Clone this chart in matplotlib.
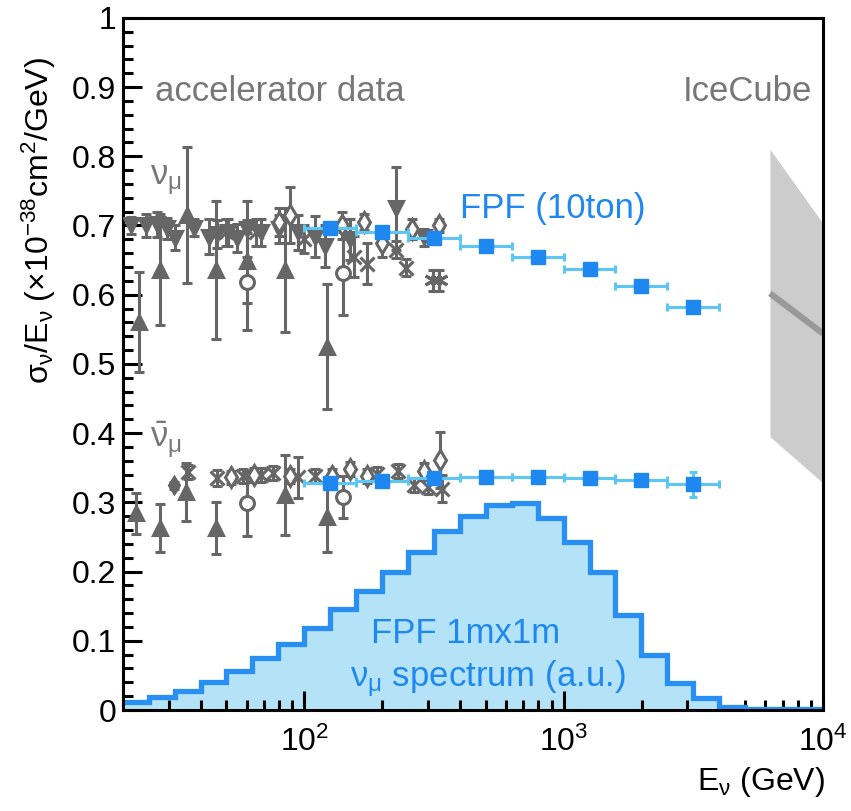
import numpy as np
import matplotlib
matplotlib.use("Agg")
import matplotlib.pyplot as plt

plt.rcParams['font.family'] = ['Liberation Sans', 'DejaVu Sans']
plt.rcParams['mathtext.fontset'] = 'custom'
plt.rcParams['mathtext.rm'] = 'Liberation Sans'
plt.rcParams['mathtext.it'] = 'Liberation Sans'
plt.rcParams['mathtext.bf'] = 'Liberation Sans:bold'

# ---- FPF neutrino spectrum histogram (log10 bin edges, a.u.)
hist_log_edges = [1.3, 1.4, 1.5, 1.6, 1.7, 1.8, 1.9, 2.0, 2.1, 2.2, 2.3, 2.4, 2.5, 2.6,
                  2.7, 2.8, 2.9, 3.0, 3.1, 3.2, 3.3, 3.4, 3.5, 3.6, 3.7, 3.8, 3.9, 4.0]
hist_vals = [0.012, 0.019, 0.027, 0.041, 0.056, 0.075, 0.096, 0.119, 0.146, 0.172,
             0.200, 0.229, 0.258, 0.280, 0.296, 0.299, 0.278, 0.243, 0.200, 0.137,
             0.079, 0.039, 0.017, 0.004, 0.002, 0.001, 0.001]

# ---- FPF (10ton) projections
fpf_log_lo = [2.0, 2.2, 2.4, 2.6, 2.8, 3.0, 3.2, 3.4]
fpf_log_hi = [2.2, 2.4, 2.6, 2.8, 3.0, 3.2, 3.4, 3.6]
fpf_nu = [0.697, 0.690, 0.682, 0.670, 0.655, 0.637, 0.612, 0.582]
fpf_nu_err = [0.004, 0.004, 0.004, 0.004, 0.004, 0.004, 0.005, 0.006]
fpf_nubar = [0.328, 0.331, 0.335, 0.337, 0.336, 0.335, 0.333, 0.326]
fpf_nubar_err = [0.004, 0.004, 0.004, 0.004, 0.004, 0.005, 0.007, 0.018]

# ---- IceCube band
ice_E = [6250, 10000]
ice_lo = [0.395, 0.328]
ice_hi = [0.810, 0.703]
ice_mid = [0.602, 0.544]

# ---- accelerator data, nu_mu  (E, sigma/E, err) by marker
nu_dtri = [(21.5, 0.700, 0.012), (24.5, 0.700, 0.016), (27.0, 0.702, 0.018),
           (29.5, 0.696, 0.015), (31.8, 0.682, 0.018), (37.5, 0.697, 0.012),
           (43.0, 0.684, 0.025), (46.0, 0.688, 0.020), (51.0, 0.690, 0.020),
           (55.0, 0.682, 0.020), (60.0, 0.695, 0.040), (68.0, 0.690, 0.020),
           (80.0, 0.695, 0.020), (95.0, 0.690, 0.025), (110.0, 0.684, 0.030),
           (120.0, 0.670, 0.030), (150.0, 0.680, 0.030), (226.0, 0.725, 0.060),
           (290.0, 0.683, 0.012)]
nu_utri = [(23.0, 0.561, 0.072), (27.9, 0.636, 0.080), (35.3, 0.715, 0.098),
           (45.7, 0.636, 0.100), (60.0, 0.648, 0.060), (84.3, 0.636, 0.090),
           (122.0, 0.525, 0.090)]
nu_circ = [(60.0, 0.619, 0.070), (141.0, 0.631, 0.060)]
nu_cross = [(50.0, 0.690, 0.020), (65.0, 0.690, 0.020), (100.0, 0.680, 0.020),
            (155.0, 0.655, 0.030), (175.0, 0.645, 0.030), (225.0, 0.665, 0.012),
            (247.0, 0.639, 0.012)]
nu_diam = [(80.0, 0.705, 0.020), (88.0, 0.715, 0.040), (140.0, 0.700, 0.020),
           (170.0, 0.705, 0.012), (200.0, 0.675, 0.020), (260.0, 0.695, 0.015),
           (330.0, 0.700, 0.010)]
nu_star = [(315.0, 0.621, 0.015), (332.0, 0.621, 0.015)]

# ---- accelerator data, anti nu_mu
nb_utri = [(22.4, 0.284, 0.030), (27.9, 0.263, 0.035), (35.0, 0.315, 0.042),
           (45.7, 0.263, 0.038), (84.3, 0.311, 0.058), (122.0, 0.279, 0.050)]
nb_circ = [(60.0, 0.299, 0.047), (141.0, 0.308, 0.030)]
nb_cross = [(35.5, 0.344, 0.010), (46.0, 0.335, 0.012), (58.0, 0.338, 0.010),
            (68.0, 0.340, 0.010), (76.0, 0.342, 0.010), (95.0, 0.336, 0.030),
            (110.0, 0.338, 0.010), (190.0, 0.341, 0.010), (230.0, 0.345, 0.010),
            (265.0, 0.325, 0.010), (300.0, 0.322, 0.010), (340.0, 0.320, 0.020)]
nb_diam = [(52.0, 0.336, 0.010), (64.0, 0.340, 0.010), (88.0, 0.338, 0.010),
           (128.0, 0.338, 0.010), (150.0, 0.348, 0.010), (175.0, 0.338, 0.010),
           (290.0, 0.345, 0.012), (335.0, 0.361, 0.040)]
nb_fdiam = [(31.5, 0.325, 0.005)]

grey = '#666666'
blue_line = '#2a8ff2'
blue_fill = '#b4e3f8'
blue_mark = '#1e88f0'
blue_err = '#5cc6f5'

fig = plt.figure(figsize=(8.51, 8.11), dpi=100)
ax = fig.add_axes([0.1445, 0.1245, 0.8225, 0.8535])

# spectrum
edges = 10 ** np.array(hist_log_edges)
ax.stairs(hist_vals, edges, fill=True, color=blue_fill, zorder=1)
ax.stairs(hist_vals, edges, baseline=None, color=blue_line, lw=3.8, zorder=2)

# IceCube
ax.fill_between(ice_E, ice_lo, ice_hi, color='#cccccc', lw=0, zorder=1)
ax.plot(ice_E, ice_mid, color='#999999', lw=4.5, solid_capstyle='butt', zorder=2)


def draw(pts, marker, ms, filled=False):
    E = [p[0] for p in pts]
    y = [p[1] for p in pts]
    e = [p[2] for p in pts]
    ax.errorbar(E, y, yerr=e, fmt='none', ecolor=grey,
                elinewidth=2.2, capsize=3.5, capthick=2.2, zorder=3)
    ax.plot(E, y, ls='none', marker=marker, ms=ms,
            mfc=grey if filled else 'white', mec=grey, mew=2.2, zorder=3)


draw(nu_dtri, 'v', 9.5, True)
draw(nu_utri, '^', 9.5, True)
draw(nu_circ, 'o', 10)
draw(nu_cross, 'x', 10)
draw(nu_diam, 'd', 10)
draw(nu_star, (6, 2, 0), 13)
draw(nb_utri, '^', 9.5, True)
draw(nb_circ, 'o', 10)
draw(nb_cross, 'x', 10)
draw(nb_diam, 'd', 10)
draw(nb_fdiam, 'd', 8.5, True)

# FPF projections
fc = 10 ** ((np.array(fpf_log_lo) + np.array(fpf_log_hi)) / 2)
xlo = fc - 10 ** np.array(fpf_log_lo)
xhi = 10 ** np.array(fpf_log_hi) - fc
for vals, errs in [(fpf_nu, fpf_nu_err), (fpf_nubar, fpf_nubar_err)]:
    ax.errorbar(fc, vals, xerr=[xlo, xhi], yerr=errs, fmt='s', ms=10.5,
                color=blue_mark, mec=blue_mark, ecolor=blue_err,
                elinewidth=2.2, capsize=3, capthick=2.2, zorder=4)

ax.set_xscale('log')
ax.set_xlim(20, 1e4)
ax.set_ylim(0, 1)
ax.set_yticks(np.arange(0, 1.01, 0.1))
ax.set_yticklabels(['0', '0.1', '0.2', '0.3', '0.4', '0.5', '0.6', '0.7', '0.8', '0.9', '1'])
ax.set_yticks(np.arange(0, 1.0, 0.02), minor=True)
ax.set_xticks([100, 1000, 10000])
ax.set_xticklabels([r'$10^{2}$', r'$10^{3}$', r'$10^{4}$'])
ax.tick_params(which='both', direction='in', top=False, right=False, width=2.2,
               labelsize=23, colors='black')
ax.tick_params(which='major', length=14)
ax.tick_params(which='minor', length=7)
ax.tick_params(axis='x', pad=12)
ax.tick_params(axis='y', pad=5)
for s in ax.spines.values():
    s.set_linewidth(2.2)

ax.set_ylabel(r'$\sigma_{\nu}/E_{\nu}$ (×10$^{-38}$cm$^{2}$/GeV)', fontsize=23)
ax.yaxis.set_label_coords(-0.093, 0.707)
fig.text(0.97, 0.015, r'E$_{\nu}$ (GeV)', ha='right', va='bottom', fontsize=23)

ax.text(0.046, 0.893, 'accelerator data', transform=ax.transAxes, color='#777777',
        fontsize=25, ha='left', va='center')
ax.text(0.984, 0.893, 'IceCube', transform=ax.transAxes, color='#777777',
        fontsize=25, ha='right', va='center')
ax.text(400, 0.724, 'FPF (10ton)', color=blue_mark, fontsize=25, ha='left', va='center')
ax.text(420, 0.110, 'FPF 1mx1m', color=blue_mark, fontsize=25, ha='center', va='center')
ax.text(510, 0.045, r'$\nu_{\mu}$ spectrum (a.u.)', color=blue_mark, fontsize=25,
        ha='center', va='center')
ax.text(25.5, 0.766, r'$\nu_{\mu}$', color='#777777', fontsize=25, ha='left', va='center')
ax.text(25.5, 0.39, r'$\bar{\nu}_{\mu}$', color='#777777', fontsize=25, ha='left', va='center')

fig.savefig('out.png', dpi=100)
